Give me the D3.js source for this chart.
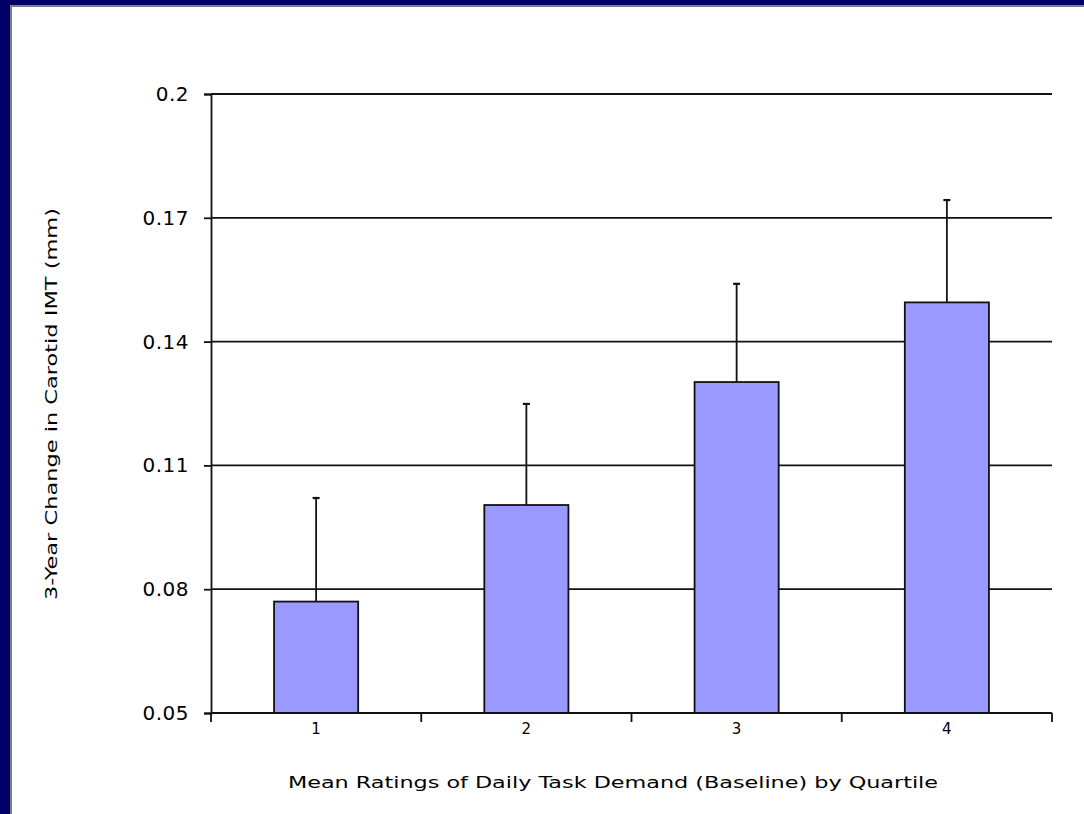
<!DOCTYPE html>
<html>
<head>
<meta charset="utf-8">
<script src="https://cdn.jsdelivr.net/npm/d3@7"></script>
<style>
  html, body { margin: 0; padding: 0; background: #000066; }
  svg { display: block; }
  text { font-family: "DejaVu Sans", "Liberation Sans", sans-serif; fill: #000; }
</style>
</head>
<body>
<svg id="chart" width="1084" height="814"></svg>
<script>
// Quartile categories and mean 3-year IMT change with upper error bar
const categories = ["1", "2", "3", "4"];
const meanChange = [0.077, 0.1004, 0.1302, 0.1495];
const upperError = [0.1021, 0.1249, 0.154, 0.1743];
const yTicks = [0.05, 0.08, 0.11, 0.14, 0.17, 0.2];
const yTickLabels = ["0.05", "0.08", "0.11", "0.14", "0.17", "0.2"];
const xTitle = "Mean Ratings of Daily Task Demand (Baseline) by Quartile";
const yTitle = "3-Year Change in Carotid IMT (mm)";

const svg = d3.select("#chart");
const W = 1084, H = 814;

// slide frame: navy background with white panel
svg.append("rect").attr("width", W).attr("height", H).attr("fill", "#000066");
svg.append("rect").attr("x", 10).attr("y", 5).attr("width", W).attr("height", H)
  .attr("fill", "#808080");
svg.append("rect").attr("x", 12).attr("y", 7).attr("width", W).attr("height", H)
  .attr("fill", "#ffffff");

const plot = { left: 211, right: 1052, top: 94, bottom: 713 };

const x = d3.scaleBand().domain(categories)
  .range([plot.left, plot.right])
  .paddingInner(0.6).paddingOuter(0.3);

const y = d3.scaleLinear().domain([0.05, 0.2]).range([plot.bottom, plot.top]);

const g = svg.append("g");

// horizontal gridlines
g.selectAll("line.grid").data(yTicks.filter(v => v > 0.05)).join("line")
  .attr("class", "grid")
  .attr("x1", plot.left).attr("x2", plot.right)
  .attr("y1", d => y(d)).attr("y2", d => y(d))
  .attr("stroke", "#111").attr("stroke-width", 1.8);

// error bars (upper whisker only)
const capHalf = 3.5;
g.selectAll("line.err").data(categories).join("line")
  .attr("class", "err")
  .attr("x1", (d) => x(d) + x.bandwidth() / 2)
  .attr("x2", (d) => x(d) + x.bandwidth() / 2)
  .attr("y1", (d, i) => y(meanChange[i]))
  .attr("y2", (d, i) => y(upperError[i]))
  .attr("stroke", "#111").attr("stroke-width", 1.8);
g.selectAll("line.cap").data(categories).join("line")
  .attr("class", "cap")
  .attr("x1", (d) => x(d) + x.bandwidth() / 2 - capHalf)
  .attr("x2", (d) => x(d) + x.bandwidth() / 2 + capHalf)
  .attr("y1", (d, i) => y(upperError[i]))
  .attr("y2", (d, i) => y(upperError[i]))
  .attr("stroke", "#111").attr("stroke-width", 2.2);

// bars
g.selectAll("rect.bar").data(categories).join("rect")
  .attr("class", "bar")
  .attr("x", d => x(d))
  .attr("width", x.bandwidth())
  .attr("y", (d, i) => y(meanChange[i]))
  .attr("height", (d, i) => y(0.05) - y(meanChange[i]))
  .attr("fill", "#9999ff")
  .attr("stroke", "#111").attr("stroke-width", 1.8);

// y axis
const yAxis = d3.axisLeft(y).tickValues(yTicks)
  .tickFormat((d, i) => yTickLabels[i]).tickSize(7).tickPadding(15);
const ya = svg.append("g").attr("transform", `translate(${plot.left},0)`).call(yAxis);
ya.select(".domain").attr("stroke", "#111").attr("stroke-width", 1.8);
ya.selectAll(".tick line").attr("stroke", "#111").attr("stroke-width", 1.8);
ya.selectAll(".tick text")
  .style("font-family", "'DejaVu Sans', sans-serif")
  .style("font-size", "20px")
  .style("letter-spacing", "0.5px")
  .attr("fill", "#222");

// x axis: baseline with tick marks at category boundaries
const boundaries = d3.range(categories.length + 1).map(i => plot.left + i * x.step());
svg.append("line")
  .attr("x1", plot.left).attr("x2", plot.right)
  .attr("y1", plot.bottom).attr("y2", plot.bottom)
  .attr("stroke", "#111").attr("stroke-width", 1.8);
svg.selectAll("line.xtick").data(boundaries).join("line")
  .attr("class", "xtick")
  .attr("x1", d => d).attr("x2", d => d)
  .attr("y1", plot.bottom).attr("y2", plot.bottom + 9)
  .attr("stroke", "#111").attr("stroke-width", 1.8);
svg.selectAll("text.xlab").data(categories).join("text")
  .attr("class", "xlab")
  .attr("x", d => x(d) + x.bandwidth() / 2)
  .attr("y", plot.bottom + 21)
  .attr("text-anchor", "middle")
  .style("font-size", "15px")
  .attr("fill", "#111")
  .text(d => d);

// axis titles
svg.append("text")
  .attr("x", 288).attr("y", 788)
  .attr("textLength", 650).attr("lengthAdjust", "spacingAndGlyphs")
  .style("font-size", "16px")
  .attr("fill", "#222")
  .text(xTitle);

svg.append("text")
  .attr("transform", "translate(57,600) rotate(-90)")
  .attr("x", 0).attr("y", 0)
  .attr("textLength", 392).attr("lengthAdjust", "spacingAndGlyphs")
  .style("font-size", "15px")
  .attr("fill", "#222")
  .text(yTitle);
</script>
</body>
</html>
